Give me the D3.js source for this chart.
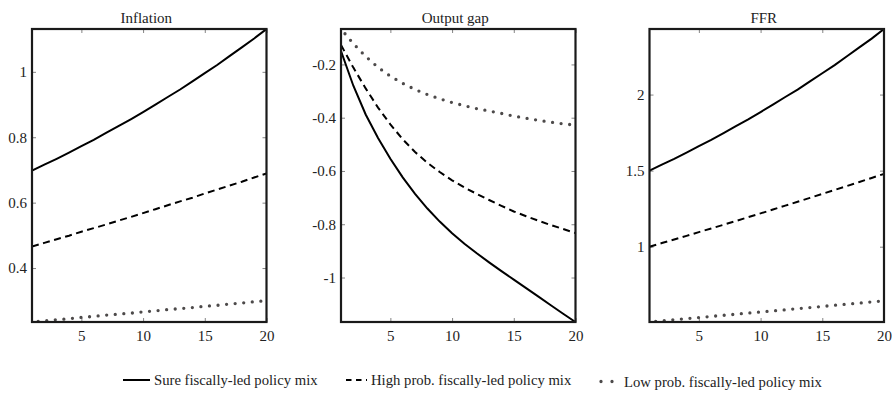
<!DOCTYPE html>
<html>
<head>
<meta charset="utf-8">
<script src="https://cdn.jsdelivr.net/npm/d3@7"></script>
<style>
body { margin: 0; background: #fff; }
svg { display: block; font-family: 'Liberation Serif', 'DejaVu Serif', serif; }
</style>
</head>
<body>
<div id="chart"></div>
<script>
// data
var periods = [1, 2, 3, 4, 5, 6, 7, 8, 9, 10, 11, 12, 13, 14, 15, 16, 17, 18, 19, 20];

var inflationSure = [0.698, 0.716, 0.734, 0.753, 0.773, 0.792, 0.813, 0.834, 0.855, 0.877,
                     0.900, 0.923, 0.946, 0.971, 0.996, 1.021, 1.048, 1.075, 1.102, 1.131];
var inflationHigh = [0.466, 0.477, 0.488, 0.499, 0.511, 0.522, 0.533, 0.545, 0.556, 0.568,
                     0.580, 0.592, 0.604, 0.615, 0.628, 0.640, 0.652, 0.664, 0.677, 0.689];
var inflationLow  = [0.235, 0.238, 0.242, 0.245, 0.249, 0.252, 0.256, 0.259, 0.262, 0.266,
                     0.269, 0.273, 0.276, 0.279, 0.283, 0.286, 0.290, 0.293, 0.297, 0.300];

var outputGapSure = [-0.150, -0.280, -0.388, -0.476, -0.554, -0.624, -0.686, -0.741, -0.790, -0.834,
                     -0.873, -0.909, -0.943, -0.976, -1.008, -1.040, -1.072, -1.104, -1.136, -1.167];
var outputGapHigh = [-0.127, -0.212, -0.290, -0.362, -0.425, -0.481, -0.529, -0.569, -0.604, -0.635,
                     -0.662, -0.686, -0.709, -0.731, -0.752, -0.770, -0.787, -0.803, -0.818, -0.833];
var outputGapLow  = [-0.067, -0.122, -0.170, -0.211, -0.244, -0.271, -0.294, -0.313, -0.329, -0.343,
                     -0.355, -0.366, -0.375, -0.384, -0.394, -0.402, -0.410, -0.417, -0.423, -0.428];

var ffrSure = [1.500, 1.539, 1.577, 1.618, 1.661, 1.702, 1.747, 1.792, 1.837, 1.885,
               1.934, 1.984, 2.033, 2.087, 2.140, 2.194, 2.252, 2.310, 2.368, 2.431];
var ffrHigh = [1.000, 1.024, 1.047, 1.071, 1.096, 1.120, 1.144, 1.169, 1.194, 1.219,
               1.244, 1.270, 1.295, 1.321, 1.347, 1.373, 1.399, 1.425, 1.452, 1.479];
var ffrLow  = [0.505, 0.512, 0.520, 0.527, 0.534, 0.542, 0.549, 0.556, 0.564, 0.571,
               0.578, 0.585, 0.593, 0.600, 0.607, 0.615, 0.622, 0.629, 0.637, 0.644];

var panelTitles = ['Inflation', 'Output gap', 'FFR'];
var inflationTicks = [0.4, 0.6, 0.8, 1];
var outputGapTicks = [-1, -0.8, -0.6, -0.4, -0.2];
var ffrTicks = [1, 1.5, 2];
var periodTicks = [5, 10, 15, 20];
var seriesNames = ['Sure fiscally-led policy mix', 'High prob. fiscally-led policy mix', 'Low prob. fiscally-led policy mix'];

var panels = [
    {title: panelTitles[0], ticks: inflationTicks, series: [inflationSure, inflationHigh, inflationLow]},
    {title: panelTitles[1], ticks: outputGapTicks, series: [outputGapSure, outputGapHigh, outputGapLow]},
    {title: panelTitles[2], ticks: ffrTicks, series: [ffrSure, ffrHigh, ffrLow]}
];

// line styles per series
var styles = [
    {stroke: '#000', width: 2, dash: null, cap: 'butt', offset: 0},
    {stroke: '#000', width: 2, dash: '7 4.5', cap: 'butt', offset: 0},
    {stroke: '#4d4a4a', width: 3.3, dash: '0 8.6', cap: 'round', offset: 2.4}
];

var width = 892, height = 411;
var panelLeft = [32, 341, 649.5];
var panelWidth = 234.5;
var plotTop = 29, plotBottom = 322;

var svg = d3.select('#chart')
    .append('svg')
    .attr('width', width)
    .attr('height', height);

var fmt = function(d) { return String(+d.toFixed(2)); };

panels.forEach(function(p, k) {
    var left = panelLeft[k];
    var g = svg.append('g').attr('class', 'panel');

    var x = d3.scaleLinear()
        .domain([1, 20])
        .range([left, left + panelWidth]);

    var y = d3.scaleLinear()
        .domain(d3.extent(d3.merge(p.series)))
        .range([plotBottom, plotTop]);

    g.append('clipPath')
        .attr('id', 'clip' + k)
        .append('rect')
        .attr('x', left)
        .attr('y', plotTop)
        .attr('width', panelWidth)
        .attr('height', plotBottom - plotTop);

    // inward ticks on all four sides
    var axes = [
        {axis: d3.axisLeft(y).tickValues(p.ticks).tickFormat(fmt), t: 'translate(' + left + ',0)'},
        {axis: d3.axisRight(y).tickValues(p.ticks).tickFormat(''), t: 'translate(' + (left + panelWidth) + ',0)'},
        {axis: d3.axisBottom(x).tickValues(periodTicks).tickFormat(fmt), t: 'translate(0,' + plotBottom + ')'},
        {axis: d3.axisTop(x).tickValues(periodTicks).tickFormat(''), t: 'translate(0,' + plotTop + ')'}
    ];

    axes.forEach(function(a, i) {
        var ag = g.append('g')
            .attr('transform', a.t)
            .call(a.axis.tickSize(-4).tickPadding(i == 0 ? 5 : 8));
        ag.select('.domain').remove();
        ag.selectAll('.tick line').attr('stroke', '#777').attr('stroke-width', 0.9);
        ag.selectAll('.tick text')
            .attr('fill', '#222')
            .style('font-size', '15px')
            .style('font-family', "'Liberation Serif', serif");
    });

    var line = d3.line()
        .x(function(d, i) { return x(periods[i]); })
        .y(function(d) { return y(d); });

    g.append('g')
        .attr('clip-path', 'url(#clip' + k + ')')
        .selectAll('path')
        .data(p.series)
        .enter()
        .append('path')
        .attr('d', line)
        .attr('fill', 'none')
        .attr('stroke', function(d, i) { return styles[i].stroke; })
        .attr('stroke-width', function(d, i) { return styles[i].width; })
        .attr('stroke-dasharray', function(d, i) { return styles[i].dash; })
        .attr('stroke-dashoffset', function(d, i) { return styles[i].offset; })
        .attr('stroke-linecap', function(d, i) { return styles[i].cap; });

    g.append('rect')
        .attr('x', left)
        .attr('y', plotTop)
        .attr('width', panelWidth)
        .attr('height', plotBottom - plotTop)
        .attr('fill', 'none')
        .attr('stroke', '#1a1a1a')
        .attr('stroke-width', 2.2);

    g.append('text')
        .attr('x', left + panelWidth / 2 - 3)
        .attr('y', 23)
        .attr('text-anchor', 'middle')
        .attr('fill', '#222')
        .style('font-size', '15px')
        .text(p.title);
});

// legend
var legendPos = [
    {x: 123, len: 27, tx: 154, ly: 380, ty: 384.5},
    {x: 346, len: 21, tx: 371, ly: 380, ty: 384.5},
    {x: 601, len: 12, tx: 624, ly: 381.5, ty: 386.5}
];

var legend = svg.append('g').attr('class', 'legend');

seriesNames.forEach(function(name, i) {
    var pos = legendPos[i];
    legend.append('line')
        .attr('x1', pos.x)
        .attr('x2', pos.x + pos.len)
        .attr('y1', pos.ly)
        .attr('y2', pos.ly)
        .attr('stroke', styles[i].stroke)
        .attr('stroke-width', styles[i].width)
        .attr('stroke-dasharray', i == 1 ? '5.5 4.5' : (i == 2 ? '0 11' : null))
        .attr('stroke-linecap', styles[i].cap);
    legend.append('text')
        .attr('x', pos.tx)
        .attr('y', pos.ty)
        .attr('fill', '#222')
        .style('font-size', '14.7px')
        .text(name);
});
</script>
</body>
</html>
